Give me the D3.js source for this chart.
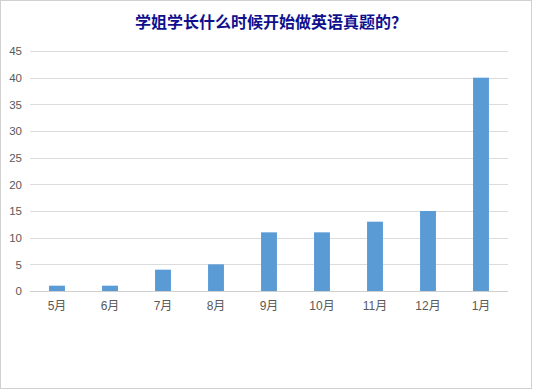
<!DOCTYPE html>
<html><head><meta charset="utf-8">
<script src="https://cdn.jsdelivr.net/npm/d3@7"></script>
<style>body{margin:0;background:#fff;}svg{display:block;}</style>
</head><body>
<script>
const categories = ["5月","6月","7月","8月","9月","10月","11月","12月","1月"];
const values = [1,1,4,5,11,11,13,15,40];
const yTicks = [0,5,10,15,20,25,30,35,40,45];
const title = "学姐学长什么时候开始做英语真题的？";

const W = 535, H = 391;
const svg = d3.select("body").append("svg").attr("width", W).attr("height", H);
svg.append("rect").attr("x",0.5).attr("y",0.5).attr("width",W-4).attr("height",H-3)
  .attr("fill","#fff").attr("stroke","#d0d0d0");

const x = d3.scaleBand().domain(categories).range([30.5, 507.5]).paddingInner(0.7).paddingOuter(0.35);
const y = d3.scaleLinear().domain([0,45]).range([291, 51]);

const grid = svg.append("g");
grid.selectAll("line").data(yTicks).join("line")
  .attr("x1",30).attr("x2",508)
  .attr("y1",d=>Math.round(y(d))+0.5).attr("y2",d=>Math.round(y(d))+0.5)
  .attr("stroke",d=>d===0?"#cfcfcf":"#dcdcdc").attr("stroke-width",1);

const yAxis = svg.append("g").attr("transform","translate(30,0)")
  .call(d3.axisLeft(y).tickValues(yTicks).tickSize(0).tickPadding(8));
yAxis.select(".domain").remove();
yAxis.selectAll("text").attr("fill","#595959").style("font-family","Liberation Sans, Arial, sans-serif").style("font-size","11.5px");

svg.append("g").selectAll("rect").data(values).join("rect")
  .attr("x",(d,i)=>x(categories[i]))
  .attr("width",x.bandwidth())
  .attr("y",d=>y(d))
  .attr("height",d=>y(0)-y(d))
  .attr("fill","#5b9bd5");

const xAxis = svg.append("g").attr("transform","translate(0,291)")
  .call(d3.axisBottom(x).tickSize(0).tickPadding(10));
xAxis.select(".domain").remove();
xAxis.selectAll("text").attr("fill","#595959").style("font-family","Liberation Sans, 'Noto Sans CJK SC', sans-serif").style("font-size","12px");

svg.append("text").attr("x",271).attr("y",28).attr("text-anchor","middle")
  .attr("fill","#10108f").style("font-family","'Noto Sans CJK SC', sans-serif")
  .style("font-weight","bold").style("font-size","16px").text(title);
</script>
</body></html>
